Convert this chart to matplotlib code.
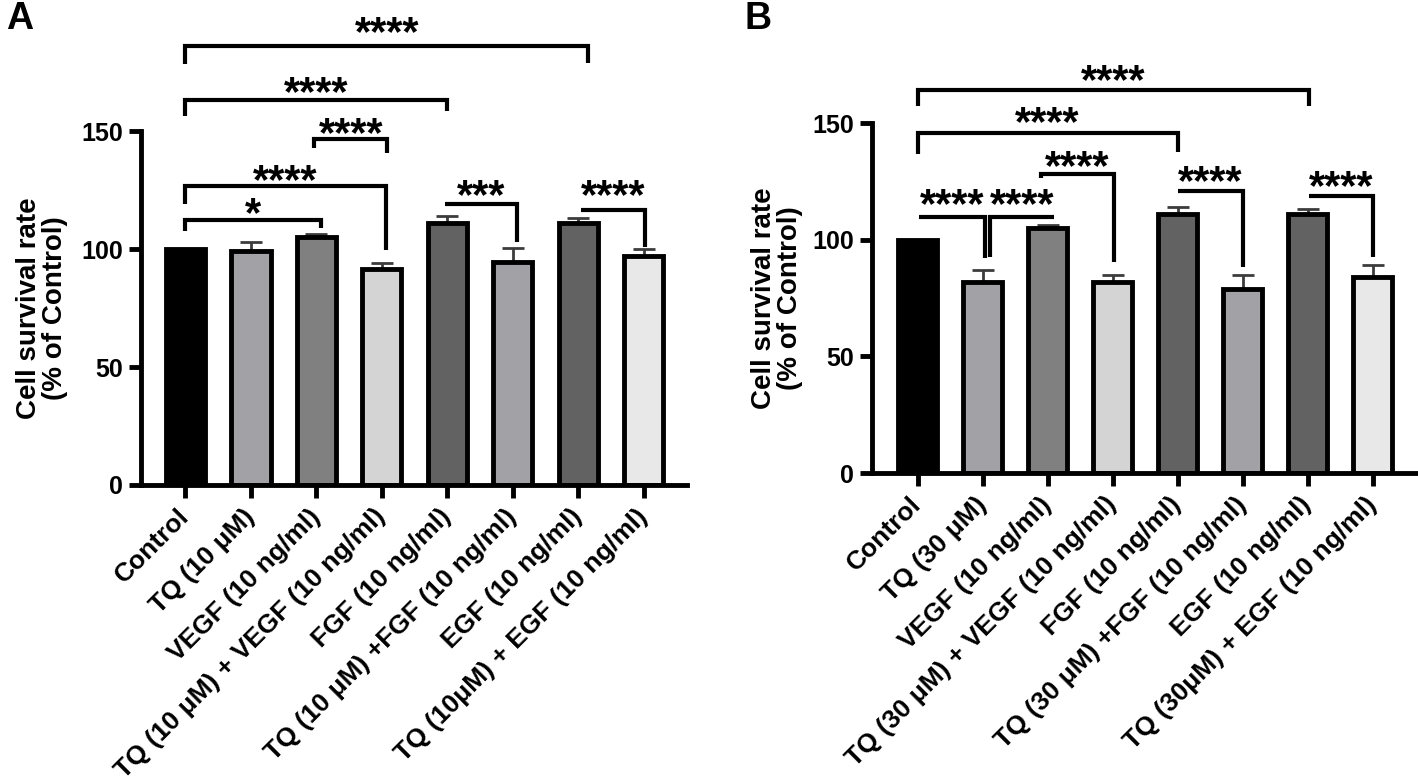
import matplotlib
matplotlib.use('Agg')
import matplotlib.pyplot as plt
from matplotlib.transforms import offset_copy

plt.rcParams['font.family'] = ['Liberation Sans', 'DejaVu Sans']
plt.rcParams['font.weight'] = 'bold'
plt.rcParams['axes.labelweight'] = 'bold'

# ---- data ----
labels_a = ['Control', 'TQ (10 μM)', 'VEGF (10 ng/ml)', 'TQ (10 μM) + VEGF (10 ng/ml)',
            'FGF (10 ng/ml)', 'TQ (10 μM) +FGF (10 ng/ml)', 'EGF (10 ng/ml)',
            'TQ (10μM) + EGF (10 ng/ml)']
labels_b = ['Control', 'TQ (30 μM)', 'VEGF (10 ng/ml)', 'TQ (30 μM) + VEGF (10 ng/ml)',
            'FGF (10 ng/ml)', 'TQ (30 μM) +FGF (10 ng/ml)', 'EGF (10 ng/ml)',
            'TQ (30μM) + EGF (10 ng/ml)']
means_a = [100, 99, 105, 91.5, 111, 94.5, 111, 97]
err_a = [0, 4, 1.5, 2.5, 3, 6, 2, 3]
means_b = [100, 82, 105, 82, 111, 79, 111, 84]
err_b = [0, 5, 1.5, 3, 3, 6, 2, 5]
bar_colors = ['#000000', '#a2a2a6', '#808080', '#d4d4d4', '#626262', '#a2a2a6', '#626262', '#e8e8e8']

# significance brackets: (x left, x right, line y, left end y, right end y, star y, text)
sig_a = [
    (0, 6.15, 186, 178.5, 179, 194, '****'),
    (0, 4.0, 163, 156.6, 158.5, 168.4, '****'),
    (1.97, 3.08, 146.5, 142.7, 140.8, 151, '****'),
    (0, 3.06, 126.7, 119, 99.6, 131.2, '****'),
    (0, 2.07, 112.3, 107.5, 108.8, 117, '*'),
    (3.97, 5.07, 119.3, None, 103, 124.6, '***'),
    (6.05, 7.02, 116.5, None, 101, 124.6, '****'),
]
sig_b = [
    (0, 6.02, 164.3, 157.1, 157.1, 170.4, '****'),
    (0, 4.0, 145.7, 136.6, 137.5, 152.3, '****'),
    (1.9, 3.02, 128, 126.5, 90.4, 133.3, '****'),
    (4.0, 5.0, 120.9, None, 88.4, 126.9, '****'),
    (6.03, 7.0, 118.6, None, 92.4, 124.8, '****'),
    (0.02, 1.04, 109.8, None, 92, 117, '****'),
    (1.12, 2.1, 109.8, 92.7, None, 117, '****'),
]

STAR_FS = 30


def draw_panel(fig, ax, labels, means, errs, sigs, xlim, label_x):
    x = list(range(len(labels)))
    ax.errorbar(x, means, yerr=[[0] * len(errs), errs], fmt='none', ecolor='#3c3c3c',
                elinewidth=2, capsize=8, capthick=2, zorder=1)
    ax.bar(x, means, width=0.6, color=bar_colors, edgecolor='black', linewidth=3.5, zorder=2)

    ax.set_xlim(*xlim)
    ax.set_ylim(0, 150)
    ax.set_yticks([0, 50, 100, 150])
    ax.set_xticks(x)
    ax.set_xticklabels(labels, rotation=45, ha='right', va='center',
                       rotation_mode='anchor', fontsize=19)
    for s in ['top', 'right']:
        ax.spines[s].set_visible(False)
    for s in ['left', 'bottom']:
        ax.spines[s].set_linewidth(3.5)
    ax.tick_params(axis='y', length=9, width=3.5, labelsize=18, pad=4)
    ax.tick_params(axis='x', length=9, width=3.5, pad=11)

    ax.set_ylabel('Cell survival rate\n(% of Control)', fontsize=20, linespacing=1.0,
                  fontweight='bold')
    ax.yaxis.set_label_coords(label_x, 0.5)

    star_tr = offset_copy(ax.transData, fig=fig, y=-0.42 * STAR_FS, units='points')
    for xl, xr, y, yl, yr, ys, txt in sigs:
        xs = [xl, xr]
        ys_line = [y, y]
        if yl is not None:
            xs = [xl] + xs
            ys_line = [yl] + ys_line
        if yr is not None:
            xs = xs + [xr]
            ys_line = ys_line + [yr]
        ax.plot(xs, ys_line, color='black', lw=3, clip_on=False,
                solid_joinstyle='miter', solid_capstyle='butt')
        ax.text((xl + xr) / 2, ys, txt, transform=star_tr, ha='center', va='baseline',
                fontsize=STAR_FS, clip_on=False)


fig = plt.figure(figsize=(14.18, 7.83), dpi=100)
ax_a = fig.add_axes([0.0994, 0.3806, 0.385, 0.452])
ax_b = fig.add_axes([0.615, 0.3959, 0.385, 0.447])

draw_panel(fig, ax_a, labels_a, means_a, err_a, sig_a, (-0.68, 7.66), -0.134)
draw_panel(fig, ax_b, labels_b, means_b, err_b, sig_b, (-0.70, 7.70), -0.126)

fig.text(0.004, 0.999, 'A', fontsize=27, fontweight='bold', va='top', ha='left')
fig.text(0.525, 0.999, 'B', fontsize=27, fontweight='bold', va='top', ha='left')

fig.savefig('out.png', dpi=100)
